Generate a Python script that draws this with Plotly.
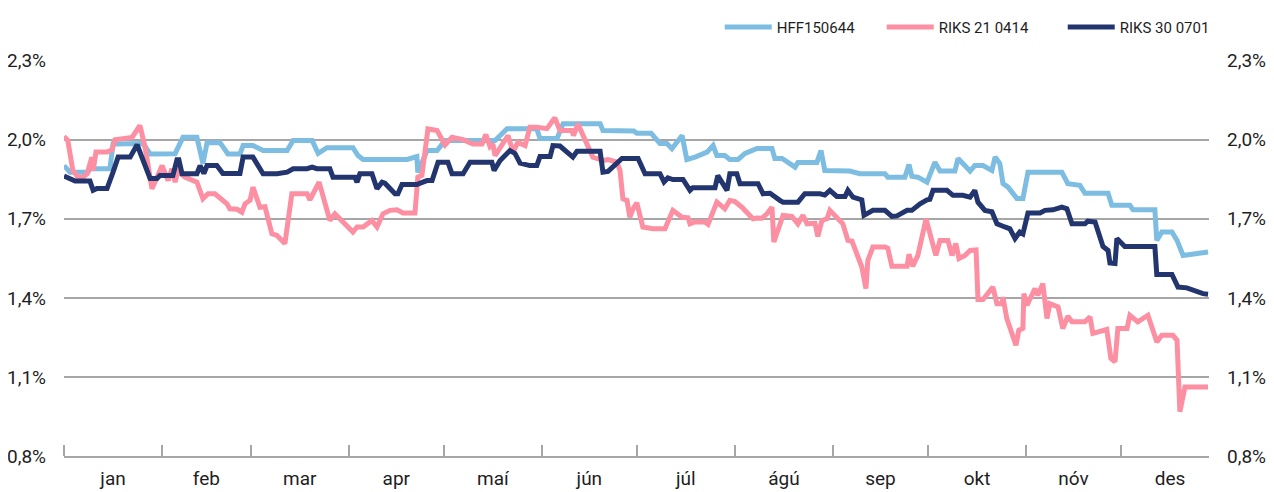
import pandas as pd
import plotly.graph_objects as go

YEAR_START = "2019-01-01"

MONTHS = ["jan", "feb", "mar", "apr", "maí", "jún", "júl", "ágú", "sep", "okt", "nóv", "des"]
Y_TICKS = [0.8, 1.1, 1.4, 1.7, 2.0, 2.3]
Y_TICKTEXT = ["0,8%", "1,1%", "1,4%", "1,7%", "2,0%", "2,3%"]

# day offsets from 1 January, yields in %
HFF_DAY = [0, 1.9, 7.6, 8.2, 14.5, 15.5, 25, 27.2, 35.1, 37.6, 42, 43.9, 45.2, 49.3, 51.8, 55.6, 56.6,
           59.7, 62.9, 70.5, 72.4, 78.4, 80.3, 83.1, 91.3, 92.9, 94.5, 108.4, 111.5, 111.8, 113.4, 114.7,
           117.9, 119.7, 120.4, 136.2, 140, 149.4, 150.4, 155.8, 157.7, 169.4, 170.3, 180, 181, 185.5,
           188.3, 190.5, 192.1, 195.3, 196.8, 199.4, 203.2, 205.1, 206.3, 208.8, 210.4, 213, 215.2, 219,
           223.7, 224.6, 226.9, 231, 231.9, 237.9, 239.2, 240.4, 248.3, 251.5, 259.4, 260.3, 265.7, 267,
           267.9, 269.8, 272.7, 275.2, 276.8, 281.5, 282.5, 286.3, 287.8, 290.4, 293.2, 294.2, 295.7,
           296.7, 298.3, 301.1, 303, 304.6, 315.3, 317.2, 321, 322.6, 329.9, 331.1, 336.8, 337.8, 344.7,
           345.3, 346.9, 350.1, 351.7, 353.6, 361.5]
HFF_VAL = [1.902, 1.877, 1.877, 1.890, 1.890, 1.984, 1.986, 1.946, 1.947, 2.009, 2.009, 1.910, 1.989,
           1.989, 1.946, 1.946, 1.978, 1.978, 1.959, 1.959, 1.997, 1.997, 1.948, 1.970, 1.970, 1.940,
           1.925, 1.925, 1.936, 1.876, 1.921, 1.959, 1.959, 1.986, 1.997, 1.997, 2.042, 2.042, 2.005,
           2.005, 2.061, 2.061, 2.035, 2.033, 2.025, 2.025, 1.986, 1.986, 1.966, 2.016, 1.925, 1.934,
           1.953, 1.978, 1.940, 1.940, 1.925, 1.925, 1.948, 1.967, 1.967, 1.929, 1.929, 1.896, 1.914,
           1.914, 1.959, 1.883, 1.881, 1.871, 1.871, 1.858, 1.858, 1.906, 1.861, 1.858, 1.839, 1.915,
           1.881, 1.881, 1.929, 1.881, 1.902, 1.902, 1.883, 1.934, 1.910, 1.834, 1.820, 1.777, 1.777,
           1.877, 1.877, 1.833, 1.827, 1.797, 1.797, 1.751, 1.751, 1.734, 1.734, 1.618, 1.650, 1.650,
           1.618, 1.561, 1.574]

R21_DAY = [0, 1.2, 2.8, 4.4, 6, 7.3, 8.8, 9.2, 10.1, 13.6, 15.2, 16.1, 21.5, 24, 25.6, 27.8, 29.4, 31,
           32.9, 34.1, 35.1, 36, 38.2, 42, 43.9, 45.5, 47.7, 49.9, 51.5, 52.4, 54.7, 56.2, 57.2, 58.8,
           59.7, 61.9, 63.5, 65.7, 67.3, 69.8, 72, 76.8, 77.7, 78.7, 80.6, 84, 85.6, 91.3, 92.6, 94.5,
           97.3, 98.9, 100.8, 103, 105.2, 107.1, 110.9, 111.8, 113.1, 115, 117.9, 120.4, 122.6, 126.1,
           129.2, 132.1, 133.3, 134.6, 135.5, 136.2, 140.3, 141.9, 143.4, 145.7, 147.2, 149.4, 152.6,
           155.1, 156.7, 160.5, 161, 162.4, 165.2, 167.1, 169.4, 170.3, 171.9, 174.7, 175.7, 176.6,
           177.9, 178.8, 179.8, 181, 182.9, 186.1, 189.9, 192.4, 195.3, 197.2, 197.8, 199.4, 202.5,
           203.5, 206.3, 208.8, 210.4, 212, 214.2, 216.1, 217.7, 219, 220.5, 222.1, 223.7, 224.3, 225.6,
           227.2, 230, 231.9, 233.5, 234.8, 237.3, 238.2, 239.5, 241.1, 242, 242.5, 244.2, 246.1, 247.7,
           249, 252.1, 253.4, 254, 255.6, 259.4, 260.3, 261.6, 266.4, 267, 268.2, 269.8, 272.4, 274.2,
           275.5, 276.8, 279.3, 280.6, 281.8, 282.8, 284.7, 286.3, 288.2, 288.8, 290.4, 293.5, 294.8,
           296.4, 296.7, 297.9, 300.8, 301.7, 303, 303.3, 304.3, 306.8, 307.7, 309.3, 310.6, 311.5,
           314.1, 315.6, 317.2, 318.5, 322.6, 324.2, 325.1, 329.5, 330.8, 332.1, 333, 335.9, 336.8,
           339.3, 342.5, 345.3, 346.9, 350.4, 351.7, 352.6, 354.2, 361.5]
R21_VAL = [2.012, 1.997, 1.883, 1.858, 1.858, 1.871, 1.934, 1.883, 1.953, 1.953, 1.962, 2.000, 2.009,
           2.054, 1.972, 1.814, 1.858, 1.902, 1.845, 1.890, 1.839, 1.883, 1.858, 1.839, 1.776, 1.795,
           1.795, 1.770, 1.757, 1.738, 1.736, 1.725, 1.757, 1.770, 1.820, 1.744, 1.746, 1.643, 1.637,
           1.606, 1.795, 1.795, 1.772, 1.795, 1.839, 1.694, 1.719, 1.650, 1.669, 1.669, 1.694, 1.669,
           1.719, 1.732, 1.734, 1.722, 1.722, 1.858, 1.865, 2.041, 2.035, 1.980, 2.009, 2.000, 1.984,
           1.984, 2.020, 1.974, 1.984, 1.940, 2.016, 1.953, 1.990, 1.978, 2.047, 2.047, 2.042, 2.083,
           2.035, 2.035, 2.016, 2.060, 1.990, 1.934, 1.925, 1.921, 1.925, 1.915, 1.883, 1.776, 1.770,
           1.706, 1.738, 1.760, 1.669, 1.662, 1.662, 1.732, 1.706, 1.704, 1.681, 1.688, 1.688, 1.679,
           1.763, 1.738, 1.770, 1.765, 1.744, 1.717, 1.700, 1.703, 1.702, 1.719, 1.744, 1.612, 1.662,
           1.713, 1.709, 1.681, 1.713, 1.681, 1.683, 1.633, 1.694, 1.700, 1.732, 1.725, 1.706, 1.681,
           1.618, 1.615, 1.517, 1.435, 1.542, 1.593, 1.593, 1.588, 1.520, 1.520, 1.565, 1.520, 1.561,
           1.700, 1.618, 1.561, 1.618, 1.618, 1.561, 1.606, 1.549, 1.561, 1.580, 1.582, 1.394, 1.394,
           1.441, 1.378, 1.378, 1.403, 1.322, 1.220, 1.277, 1.284, 1.416, 1.372, 1.435, 1.410, 1.454,
           1.322, 1.378, 1.366, 1.284, 1.330, 1.309, 1.309, 1.328, 1.265, 1.280, 1.170, 1.157, 1.284,
           1.284, 1.334, 1.309, 1.334, 1.233, 1.258, 1.258, 1.239, 0.968, 1.062, 1.062]

R30_DAY = [0, 3.5, 8.2, 9.2, 10.4, 13.6, 15.5, 17.1, 20.9, 23.1, 27.2, 29.4, 30.3, 34.4, 35.7, 36.3,
           37.3, 42, 43, 44.2, 45.2, 48.3, 50.2, 55.6, 56.6, 59.7, 62.9, 67.3, 70.5, 72.4, 76.8, 78.4,
           79.9, 84, 85, 91.9, 92.6, 93.5, 97.3, 98.9, 100.5, 101.4, 104.6, 105.5, 106.8, 111.5, 113.4,
           114.7, 116.3, 118.2, 121.3, 122.6, 126.1, 128.3, 135.2, 135.9, 137.8, 140.9, 142.5, 144.1,
           147.2, 149.4, 150.4, 153.6, 154.5, 156.7, 160.8, 162.1, 169.4, 170.3, 171.9, 174.7, 176.3,
           181.4, 183.6, 188.3, 189.3, 189.6, 190.8, 192.4, 195.6, 197.8, 198.7, 205.7, 206.6, 209.5,
           210.4, 212.6, 213.6, 219.3, 220.9, 223.1, 226.2, 227.2, 231.9, 234.1, 238.9, 240.4, 242,
           244.2, 246.8, 247.7, 249.3, 252.1, 252.8, 255.6, 259.4, 261.6, 263.2, 266.4, 267.9, 270.5,
           272.7, 273.6, 274.6, 279, 280.9, 284, 286.3, 287.8, 288.8, 291, 293.2, 294.8, 297.3, 298.9,
           300.5, 302, 303, 304.6, 308.4, 310, 312.5, 315.3, 316.9, 318.5, 322.6, 323.5, 325.8, 328.3,
           329.9, 330.5, 332.1, 332.7, 335.2, 344.7, 345.3, 350.1, 352, 354.8, 359.9, 361.5]
R30_VAL = [1.862, 1.843, 1.843, 1.808, 1.815, 1.815, 1.877, 1.934, 1.934, 1.981, 1.853, 1.853, 1.864,
           1.864, 1.924, 1.924, 1.871, 1.871, 1.902, 1.872, 1.902, 1.902, 1.872, 1.872, 1.934, 1.934,
           1.871, 1.871, 1.877, 1.890, 1.890, 1.896, 1.890, 1.890, 1.858, 1.858, 1.839, 1.871, 1.871,
           1.814, 1.839, 1.835, 1.795, 1.795, 1.830, 1.830, 1.839, 1.845, 1.845, 1.915, 1.915, 1.871,
           1.871, 1.915, 1.915, 1.883, 1.921, 1.959, 1.948, 1.911, 1.902, 1.902, 1.936, 1.936, 1.978,
           1.976, 1.934, 1.956, 1.956, 1.877, 1.880, 1.910, 1.929, 1.929, 1.871, 1.871, 1.852, 1.840,
           1.855, 1.849, 1.849, 1.808, 1.818, 1.818, 1.864, 1.808, 1.871, 1.871, 1.833, 1.833, 1.795,
           1.797, 1.770, 1.763, 1.763, 1.795, 1.795, 1.790, 1.808, 1.785, 1.785, 1.808, 1.782, 1.772,
           1.713, 1.732, 1.732, 1.709, 1.711, 1.732, 1.732, 1.757, 1.772, 1.774, 1.808, 1.808, 1.789,
           1.789, 1.782, 1.808, 1.763, 1.732, 1.727, 1.681, 1.669, 1.662, 1.625, 1.650, 1.643, 1.722,
           1.722, 1.732, 1.734, 1.744, 1.738, 1.681, 1.681, 1.691, 1.688, 1.595, 1.580, 1.532, 1.530,
           1.625, 1.595, 1.595, 1.489, 1.489, 1.441, 1.438, 1.416, 1.414]

SERIES = [
    ("HFF150644", HFF_DAY, HFF_VAL, "#7dbde2", 100),
    ("RIKS 21 0414", R21_DAY, R21_VAL, "#fd8fa2", 119),
    ("RIKS 30 0701", R30_DAY, R30_VAL, "#22356e", None),
]

start = pd.Timestamp(YEAR_START)


def to_dates(days):
    return start + pd.to_timedelta(days, unit="D")


month_starts = pd.date_range(start, periods=12, freq="MS")
month_ends = month_starts + pd.offsets.MonthBegin(1)
month_mids = month_starts + (month_ends - month_starts) / 2

FONT = "Roboto, Liberation Sans, sans-serif"
GRID = "#a6a6a6"
TEXT = "#1e1e1e"

fig = go.Figure()
for name, d, v, color, lw in SERIES:
    fig.add_trace(go.Scatter(
        x=to_dates(d), y=v, name=name, mode="lines",
        line=dict(color=color, width=5),
        legendwidth=lw,
    ))
fig.add_trace(go.Scatter(x=[None], y=[None], yaxis="y2", showlegend=False, hoverinfo="skip"))

yaxis_common = dict(
    range=[0.8, 2.3025], tickmode="array", tickvals=Y_TICKS, ticktext=Y_TICKTEXT,
    tickfont=dict(family=FONT, size=19, color=TEXT), zeroline=False, ticks="",
    ticklabelstandoff=17, automargin=False,
)

# page body has an 8px margin, so the figure is sized to fit inside the window
fig.update_layout(
    width=1266, height=484,
    margin=dict(l=56, r=65, t=52, b=36, autoexpand=False),
    plot_bgcolor="white", paper_bgcolor="white",
    font=dict(family=FONT, color=TEXT),
    showlegend=True,
    legend=dict(
        orientation="h", x=1.005, xanchor="right", y=1.083, yanchor="middle",
        font=dict(family=FONT, size=15, color=TEXT), itemwidth=47,
        bgcolor="rgba(0,0,0,0)",
    ),
    xaxis=dict(
        type="date",
        range=[start, to_dates([361.8])[0]],
        tickmode="array", tickvals=month_mids, ticktext=MONTHS,
        ticks="", showgrid=False, zeroline=False, automargin=False,
        tickfont=dict(family=FONT, size=19, color=TEXT),
        ticklabelstandoff=4,
        showline=True, linecolor=GRID, linewidth=1.5,
        minor=dict(tickmode="array", tickvals=month_starts, ticks="inside", ticklen=11,
                   tickwidth=1.5, tickcolor=GRID, showgrid=False),
    ),
    yaxis=dict(showgrid=True, gridcolor=GRID, gridwidth=1.5, side="left", **yaxis_common),
    yaxis2=dict(overlaying="y", side="right", showgrid=False, **yaxis_common),
    hovermode=False,
)

fig.write_html("out.html")
